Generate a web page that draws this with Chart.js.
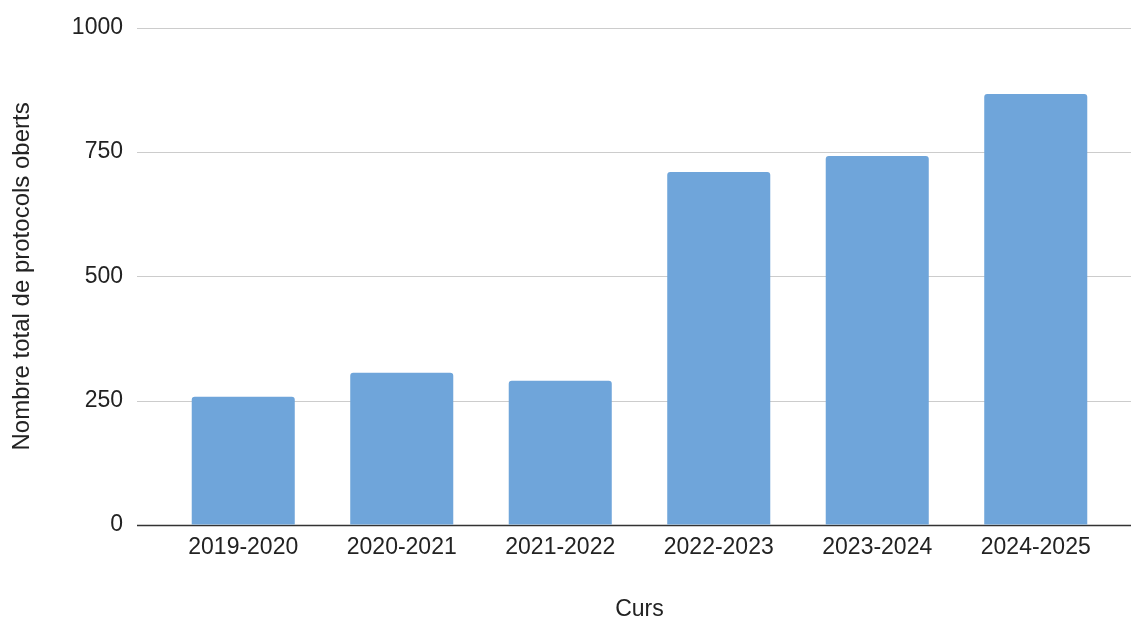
<!DOCTYPE html>
<html lang="ca">
<head>
    <meta charset="UTF-8">
    <title>Nombre total de protocols oberts</title>
    <script src="https://cdn.jsdelivr.net/npm/chart.js"></script>
    <style>
        body {
            margin: 0;
            background-color: #ffffff;
        }
        #contenidor {
            width: 1131px;
            height: 619px;
        }
    </style>
</head>
<body>
    <div id="contenidor">
        <canvas id="grafica"></canvas>
    </div>

    <script>
        // Dades
        const cursos = ["2019-2020", "2020-2021", "2021-2022", "2022-2023", "2023-2024", "2024-2025"];
        const protocols = [258, 306, 290, 710, 742, 867];
        const marquesY = [0, 250, 500, 750, 1000];

        const colorBarra = "#6fa5da";
        const colorGraella = "#cccccc";
        const colorEix = "#333333";
        const font = "'Liberation Sans', Arial, sans-serif";
        const llargMarca = 27;

        // línies de la graella: des de la marca de l'eix fins a la vora dreta
        const graella = {
            id: 'graella',
            beforeDatasetsDraw(chart) {
                const ctx = chart.ctx;
                const y = chart.scales.y;
                ctx.save();
                y.ticks.forEach(t => {
                    const py = Math.round(y.getPixelForValue(t.value)) + 0.5;
                    ctx.strokeStyle = t.value === 0 ? colorEix : colorGraella;
                    ctx.lineWidth = t.value === 0 ? 1.5 : 1;
                    ctx.beginPath();
                    ctx.moveTo(chart.chartArea.left - llargMarca, py);
                    ctx.lineTo(chart.width, py);
                    ctx.stroke();
                });
                ctx.restore();
            }
        };

        new Chart(document.getElementById('grafica'), {
            type: 'bar',
            data: {
                labels: cursos,
                datasets: [{
                    label: "Nombre total de protocols oberts",
                    data: protocols,
                    backgroundColor: colorBarra,
                    borderRadius: { topLeft: 3, topRight: 3 },
                    borderSkipped: 'bottom',
                    barPercentage: 0.65,
                    categoryPercentage: 1
                }]
            },
            options: {
                responsive: true,
                maintainAspectRatio: false,
                animation: false,
                layout: { padding: { top: 26, right: 16, bottom: 0, left: 0 } },
                plugins: {
                    legend: { display: false },
                    tooltip: { enabled: false }
                },
                scales: {
                    x: {
                        grid: { display: false, drawTicks: false },
                        border: { display: false },
                        ticks: {
                            color: "#222222",
                            font: { family: font, size: 23 },
                            padding: 9,
                            maxRotation: 0
                        },
                        title: {
                            display: true,
                            text: "Curs",
                            color: "#222222",
                            font: { family: font, size: 23 },
                            padding: { top: 0, bottom: -4 }
                        },
                        afterFit: s => { s.height = 94; }
                    },
                    y: {
                        min: 0,
                        max: 1000,
                        afterBuildTicks: s => { s.ticks = marquesY.map(v => ({ value: v })); },
                        grid: {
                            color: 'rgba(0,0,0,0)',
                            tickLength: llargMarca,
                            drawTicks: true
                        },
                        border: { display: false },
                        ticks: {
                            color: "#222222",
                            font: { family: font, size: 23 },
                            padding: 14,
                            callback: v => String(v)
                        },
                        title: {
                            display: true,
                            text: "Nombre total de protocols oberts",
                            color: "#222222",
                            font: { family: font, size: 24 },
                            padding: { top: 8, bottom: 0 }
                        },
                        afterFit: s => { s.width = 164; }
                    }
                }
            },
            plugins: [graella]
        });
    </script>
</body>
</html>
